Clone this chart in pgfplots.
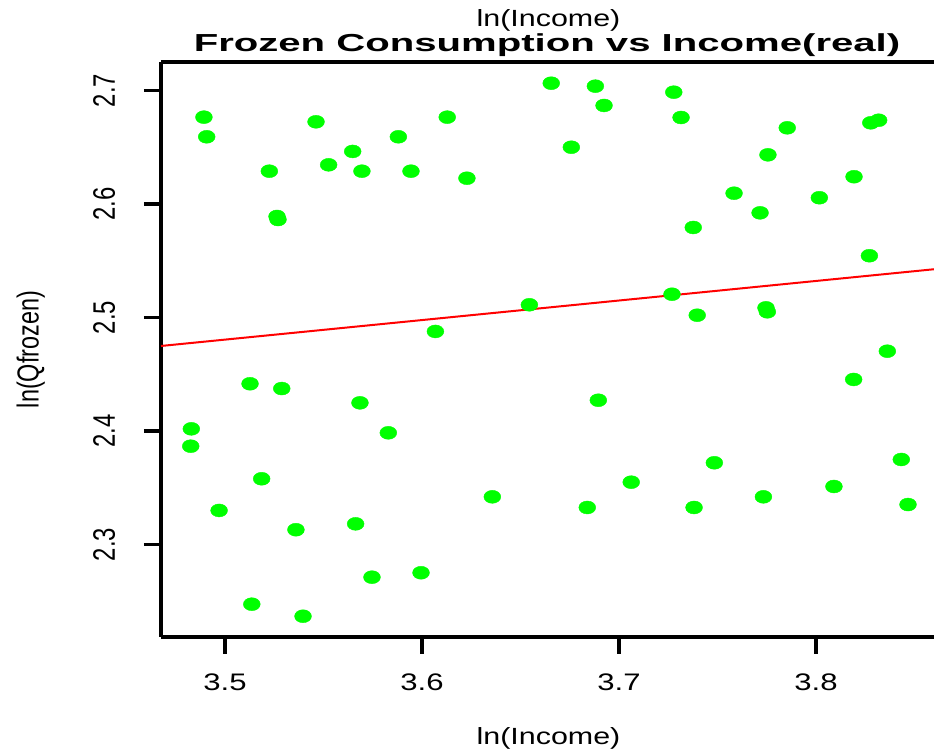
\documentclass[border=0pt]{standalone}
\usepackage{fontspec}
\setmainfont{Liberation Sans}
\usepackage{pgfplots}
\pgfplotsset{compat=1.18}
\definecolor{ptgreen}{RGB}{0,255,0}
\definecolor{lnred}{RGB}{255,0,0}
\newcommand{\hs}[1]{\scalebox{1.3}[1]{#1}}
\newcommand{\vs}[1]{\scalebox{1}[1.3]{#1}}
\begin{document}
\begin{tikzpicture}[x=1bp,y=1bp]
\path[use as bounding box] (0,0) rectangle (934,751);
\begin{axis}[
  at={(161bp,114bp)}, anchor=south west,
  width=773bp, height=575bp, scale only axis,
  xmin=3.46751, xmax=3.85990, ymin=2.2185, ymax=2.7251,
  axis x line=box, axis y line=left,
  axis line style={line width=3.2bp, -, black},
  xtick={3.5,3.6,3.7,3.8}, ytick={2.3,2.4,2.5,2.6,2.7},
  xtick pos=bottom, ytick pos=left,
  tick align=outside, major tick length=17bp,
  tick style={line width=3.2bp, black},
  minor tick num=0,
  xticklabel={\hs{\pgfmathprintnumber[fixed,precision=1]{\tick}}},
  yticklabel={\vs{\pgfmathprintnumber[fixed,precision=1]{\tick}}},
  /pgf/number format/assume math mode=true,
  ticklabel style={font=\fontsize{24}{28}\selectfont, inner sep=0pt},
  xticklabel style={anchor=base},
  yticklabel style={rotate=90, anchor=base},
  xticklabel shift=37bp,
  yticklabel shift=29bp,
  clip=false,
]
\addplot[only marks, mark=*, mark size=6.5bp, mark options={xscale=1.3, fill=ptgreen, draw=ptgreen}] coordinates {
(3.4893,2.6765) (3.4907,2.6592) (3.5225,2.6289) (3.5264,2.5890) (3.5269,2.5863)
(3.5462,2.6724) (3.5526,2.6345) (3.5648,2.6463) (3.5695,2.6289) (3.5880,2.6592)
(3.5944,2.6289) (3.6128,2.6765) (3.6228,2.6227) (3.6068,2.4877) (3.6656,2.7064)
(3.6880,2.7038) (3.6924,2.6868) (3.7278,2.6985) (3.7315,2.6762) (3.6758,2.6500)
(3.7854,2.6671) (3.8278,2.6715) (3.8318,2.6738) (3.7756,2.6433) (3.8193,2.6240)
(3.7584,2.6095) (3.8017,2.6055) (3.7716,2.5922) (3.7377,2.5793) (3.8271,2.5544)
(3.6545,2.5112) (3.7269,2.5205) (3.7397,2.5020) (3.7746,2.5085) (3.7753,2.5050)
(3.8362,2.4703) (3.5127,2.4416) (3.5288,2.4374) (3.5685,2.4248) (3.4829,2.4019)
(3.4826,2.3866) (3.5829,2.3984) (3.5186,2.3579) (3.4970,2.3300) (3.5360,2.3130)
(3.5663,2.3182) (3.6357,2.3420) (3.5746,2.2712) (3.5995,2.2751) (3.5136,2.2474)
(3.5396,2.2368) (3.8191,2.4454) (3.6895,2.4271) (3.7484,2.3720) (3.8433,2.3749)
(3.7062,2.3549) (3.6839,2.3326) (3.7381,2.3326) (3.7733,2.3420) (3.8091,2.3511)
(3.8467,2.3352)
};
\addplot[lnred, line width=2bp, no marks] coordinates {(3.46751,2.4749) (3.85990,2.5425)};
\end{axis}
\node[anchor=base, inner sep=0pt] at (547,699) {\scalebox{1.63}[1]{\fontsize{24.7}{28}\selectfont\bfseries Frozen Consumption vs Income(real)}};
\node[anchor=base, inner sep=0pt] at (548.5,724) {\hs{\fontsize{23.5}{28}\selectfont ln(Income)}};
\node[anchor=base, inner sep=0pt] at (548.5,6) {\hs{\fontsize{23.5}{28}\selectfont ln(Income)}};
\node[rotate=90, anchor=base, inner sep=0pt] at (38.5,401.5) {\vs{\fontsize{23.5}{28}\selectfont ln(Qfrozen)}};
\end{tikzpicture}
\end{document}
